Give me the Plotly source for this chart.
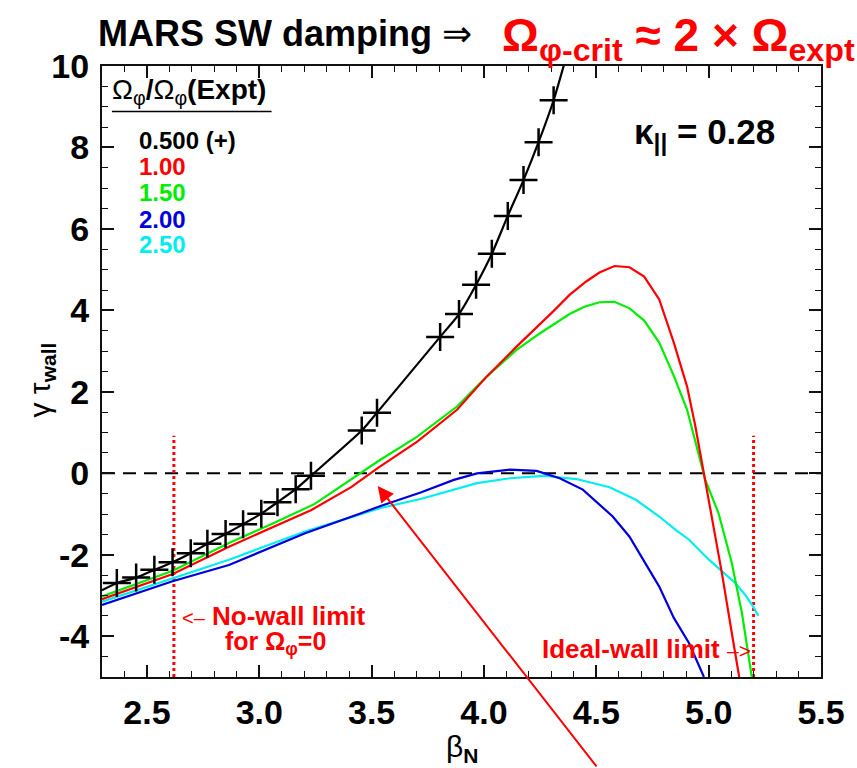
import plotly.graph_objects as go

# ---------------- data ----------------
x_range = [2.3, 5.5]
y_range = [-5, 10]
x_ticks = [2.5, 3.0, 3.5, 4.0, 4.5, 5.0, 5.5]
x_ticklabels = ["2.5", "3.0", "3.5", "4.0", "4.5", "5.0", "5.5"]
y_ticks = [-4, -2, 0, 2, 4, 6, 8, 10]
y_ticklabels = ["-4", "-2", "0", "2", "4", "6", "8", "10"]

legend_labels = ["0.500 (+)", "1.00", "1.50", "2.00", "2.50"]
legend_colors = ["#000000", "#ff0000", "#00ee00", "#0000dd", "#00eeee"]

# 0.500 (black, + markers)
black_mark_x = [2.366, 2.452, 2.533, 2.614, 2.695, 2.769, 2.850, 2.928, 3.009, 3.081,
                3.162, 3.230, 3.456, 3.524, 3.805, 3.889, 3.965, 4.035, 4.106, 4.176,
                4.243, 4.310]
black_mark_y = [-2.69, -2.56, -2.37, -2.18, -1.96, -1.73, -1.49, -1.25, -0.99, -0.71,
                -0.39, -0.06, 1.05, 1.49, 3.35, 3.91, 4.63, 5.39, 6.32, 7.20,
                8.13, 9.16]
black_line_x = [2.30] + black_mark_x + [4.37]
black_line_y = [-2.87] + black_mark_y + [10.3]

# 1.00 (red)
red_x = [2.30, 2.615, 2.865, 3.07, 3.232, 3.409, 3.527, 3.703, 3.88, 4.013, 4.145,
         4.307, 4.381, 4.455, 4.514, 4.581, 4.648, 4.713, 4.78, 4.846, 4.904, 4.941,
         4.985, 5.059, 5.103, 5.136]
red_y = [-3.09, -2.47, -1.80, -1.29, -0.90, -0.34, 0.13, 0.78, 1.56, 2.38, 3.11,
         3.97, 4.38, 4.71, 4.93, 5.09, 5.06, 4.83, 4.27, 3.19, 2.13, 1.15,
         -0.16, -2.45, -3.92, -5.0]

# 1.50 (green)
green_x = [2.30, 2.615, 2.865, 3.07, 3.247, 3.453, 3.527, 3.703, 3.88, 4.013, 4.145,
           4.25, 4.381, 4.447, 4.514, 4.581, 4.648, 4.713, 4.78, 4.846, 4.904, 4.985,
           5.044, 5.103, 5.148, 5.192]
green_y = [-3.02, -2.39, -1.71, -1.21, -0.75, 0.0, 0.29, 0.90, 1.64, 2.38, 3.03,
           3.44, 3.91, 4.09, 4.20, 4.21, 4.05, 3.75, 3.21, 2.38, 1.56, -0.16,
           -0.98, -2.2, -3.43, -5.0]

# 2.00 (blue)
blue_x = [2.30, 2.614, 2.865, 3.204, 3.453, 3.54, 3.718, 3.866, 3.969, 4.116, 4.234,
          4.337, 4.44, 4.573, 4.647, 4.78, 4.845, 4.913, 4.979]
blue_y = [-3.23, -2.65, -2.25, -1.47, -0.98, -0.80, -0.47, -0.16, 0.0, 0.09, 0.06,
          -0.12, -0.40, -1.06, -1.55, -2.78, -3.55, -4.17, -5.0]

# 2.50 (cyan)
cyan_x = [2.30, 2.614, 2.865, 3.204, 3.54, 3.718, 3.969, 4.116, 4.264, 4.411, 4.559,
          4.676, 4.78, 4.853, 4.913, 5.001, 5.118, 5.162, 5.199, 5.221]
cyan_y = [-3.15, -2.57, -2.12, -1.43, -0.85, -0.63, -0.24, -0.12, -0.06, -0.14, -0.34,
          -0.65, -1.06, -1.39, -1.63, -2.12, -2.69, -2.98, -3.28, -3.50]

# limits
nowall_beta = 2.62
idealwall_beta = 5.20
limit_line_y = [-5.0, 0.92]
zero_line_x = [2.3, 5.5]
zero_line_y = [0, 0]
kappa_text = "κ<sub>||</sub> = 0.28"
kappa_pos = (4.98, 8.33)
arrow_tip = (3.527, -0.31)

# ---------------- figure ----------------
W, H = 857, 768
ML, MR, MT, MB = 102, 30, 66, 91
PW, PH = W - ML - MR, H - MT - MB


def px(p):
    return (p - ML) / PW


def py(q):
    return (H - MB - q) / PH


FONT = "Liberation Sans, Arial, Helvetica, sans-serif"

fig = go.Figure()

# zero line
fig.add_trace(go.Scatter(x=zero_line_x, y=zero_line_y, mode="lines",
                         line=dict(color="black", width=2, dash="13px,8px"),
                         hoverinfo="skip", showlegend=False))
# limit lines
for xb in (nowall_beta, idealwall_beta):
    fig.add_trace(go.Scatter(x=[xb, xb], y=limit_line_y, mode="lines",
                             line=dict(color="#ff0000", width=3, dash="3px,3px"),
                             hoverinfo="skip", showlegend=False))

curves = [
    (cyan_x, cyan_y, legend_colors[4]),
    (blue_x, blue_y, legend_colors[3]),
    (green_x, green_y, legend_colors[2]),
    (red_x, red_y, legend_colors[1]),
]
for cx_, cy_, col in curves:
    fig.add_trace(go.Scatter(x=cx_, y=cy_, mode="lines",
                             line=dict(color=col, width=2.2),
                             showlegend=False))

fig.add_trace(go.Scatter(x=black_line_x, y=black_line_y, mode="lines",
                         line=dict(color="black", width=2.2, shape="spline", smoothing=0.6),
                         showlegend=False))
fig.add_trace(go.Scatter(x=black_mark_x, y=black_mark_y, mode="markers",
                         marker=dict(symbol="cross-thin", size=20,
                                     line=dict(color="black", width=2.5)),
                         showlegend=False))

axis_common = dict(showgrid=False, zeroline=False, showline=True, linecolor="#111",
                   linewidth=2, ticks="inside", mirror="ticks", tickcolor="#111",
                   tickwidth=1.5, ticklen=12,
                   tickfont=dict(family=FONT, size=34, color="black", weight="bold"))

fig.update_xaxes(range=x_range, tickvals=x_ticks, ticktext=x_ticklabels,
                 ticklabelstandoff=4,
                 minor=dict(dtick=0.1, tick0=2.3, ticks="inside", ticklen=6,
                            tickcolor="#111", tickwidth=1.2),
                 **axis_common)
fig.update_yaxes(range=y_range, tickvals=y_ticks, ticktext=y_ticklabels,
                 ticklabelstandoff=4,
                 minor=dict(dtick=0.5, tick0=0, ticks="inside", ticklen=6,
                            tickcolor="#111", tickwidth=1.2),
                 **axis_common)

ann = []
# title
ann.append(dict(xref="paper", yref="paper", x=px(96), y=py(34), xanchor="left",
                yanchor="middle", showarrow=False,
                text="<b>MARS SW damping</b> ⇒",
                font=dict(family=FONT, size=36, color="black")))
ann.append(dict(xref="paper", yref="paper", x=px(503), y=py(38), xanchor="left",
                yanchor="middle", showarrow=False,
                text="<b>Ω<sub>φ-crit</sub> ≈ 2 × Ω<sub>expt</sub></b>",
                font=dict(family=FONT, size=46, color="#ff0000")))
# axis titles
ann.append(dict(xref="paper", yref="paper", x=px(40), y=py(380), textangle=-90,
                xanchor="center", yanchor="middle",
                showarrow=False, text="γ τ<sub><b>wall</b></sub>",
                font=dict(family=FONT, size=30, color="black")))
ann.append(dict(xref="paper", yref="paper", x=px(465), y=py(748),
                xanchor="center", yanchor="middle",
                showarrow=False, text="β<sub><b>N</b></sub>",
                font=dict(family=FONT, size=30, color="black")))
# kappa
ann.append(dict(xref="x", yref="y", x=kappa_pos[0], y=kappa_pos[1], showarrow=False,
                text="<b>" + kappa_text + "</b>",
                font=dict(family=FONT, size=35, color="black")))
# legend header
ann.append(dict(xref="paper", yref="paper", x=px(110), y=py(92), xanchor="left",
                yanchor="middle", showarrow=False,
                text="Ω<sub>φ</sub><b>/</b>Ω<sub>φ</sub><b>(Expt)</b>",
                font=dict(family=FONT, size=28, color="black")))
# legend entries
leg_y = [140, 166.7, 192.7, 219.3, 245]
for lab, col, yy in zip(legend_labels, legend_colors, leg_y):
    ann.append(dict(xref="paper", yref="paper", x=px(137), y=py(yy), xanchor="left",
                    yanchor="middle", showarrow=False, text="<b>" + lab + "</b>",
                    font=dict(family=FONT, size=24, color=col)))
# limit annotations
ann.append(dict(xref="paper", yref="paper", x=px(181), y=py(616), xanchor="left",
                yanchor="middle", showarrow=False,
                text="<span style='font-weight:normal;font-size:20px'>&lt;–</span> <b>No-wall limit</b>",
                font=dict(family=FONT, size=26, color="#ff0000")))
ann.append(dict(xref="paper", yref="paper", x=px(224), y=py(643), xanchor="left",
                yanchor="middle", showarrow=False,
                text="<b>for Ω<sub>φ</sub>=0</b>",
                font=dict(family=FONT, size=25, color="#ff0000")))
ann.append(dict(xref="paper", yref="paper", x=px(544), y=py(649), xanchor="left",
                yanchor="middle", showarrow=False,
                text="<b>Ideal-wall limit</b> <span style='font-weight:normal;font-size:21px'>–&gt;</span>",
                font=dict(family=FONT, size=26, color="#ff0000")))
# arrow
ann.append(dict(xref="x", yref="y", x=arrow_tip[0], y=arrow_tip[1], text="",
                showarrow=True, axref="pixel", ayref="pixel", ax=220, ay=282,
                arrowhead=2, arrowsize=1.6, arrowwidth=2, arrowcolor="#ff0000"))

shapes = [dict(type="line", xref="paper", yref="paper", x0=px(112), x1=px(273),
               y0=py(111.5), y1=py(111.5), line=dict(color="black", width=1.5))]

fig.update_layout(width=W, height=H, margin=dict(l=ML, r=MR, t=MT, b=MB),
                  paper_bgcolor="white", plot_bgcolor="white",
                  annotations=ann, shapes=shapes, showlegend=False)

fig.write_html("out.html")
